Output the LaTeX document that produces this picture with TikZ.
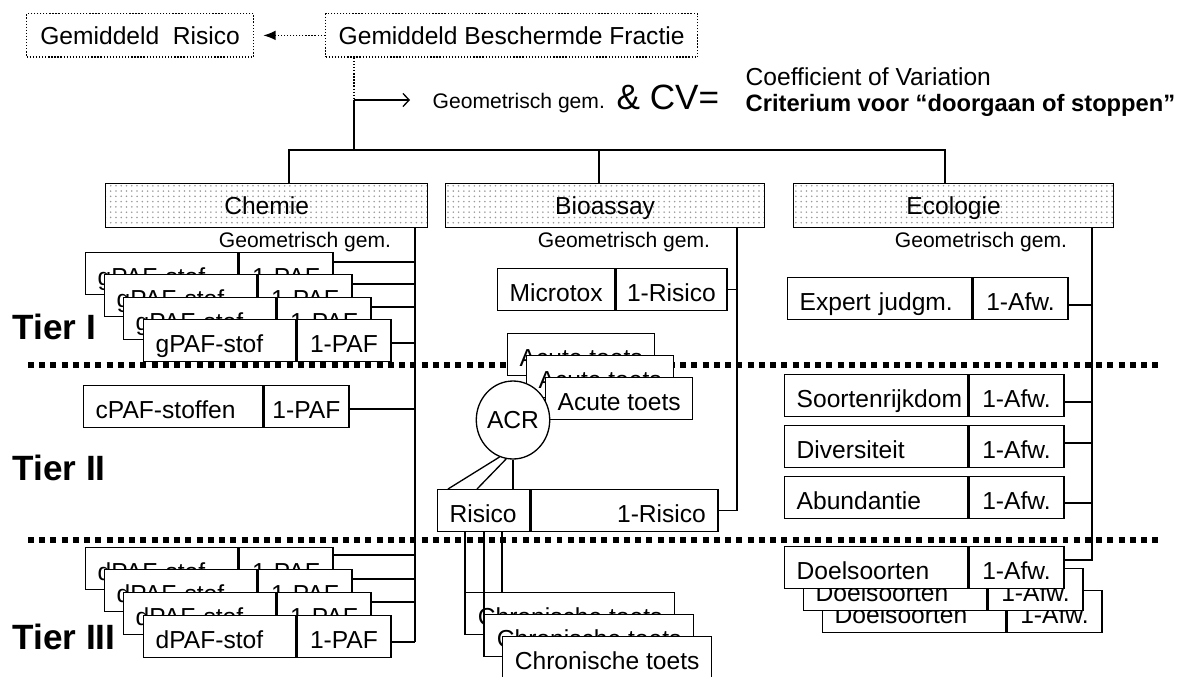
\documentclass[tikz,border=0pt]{standalone}
\usepackage{fontspec}
\setmainfont{Liberation Sans}
\usetikzlibrary{positioning,calc,shapes.geometric,patterns,arrows.meta}

\begin{document}
\begin{tikzpicture}[x=0.02cm, y=-0.02cm, >=latex, line width=0.75pt,
    every node/.style={font=\fontsize{14}{16}\selectfont}]
    \useasboundingbox (0,0) rectangle (1202,676);

    % --- ESTILOS ---
    \tikzset{
      stip/.style={draw, densely dotted, minimum height=0.87cm, inner sep=0pt, anchor=north west},
      kop/.style={draw, pattern=dots, pattern color=black!40, minimum height=0.88cm, inner sep=0pt,
        text height=12pt, text depth=2pt, anchor=north west},
      celda/.style={draw, fill=white, minimum height=0.84cm, inner sep=0pt, text height=14pt, text depth=1pt, anchor=north west},
      izq/.style={celda, inner xsep=0.24cm, text width=#1, align=left},
      der/.style={celda, minimum width=#1},
      klein/.style={font=\fontsize{12}{14}\selectfont, inner sep=0pt},
      tier/.style={font=\fontsize{20}{24}\selectfont\bfseries, anchor=west, inner sep=0pt},
      tierlijn/.style={line width=3.4pt, dash pattern=on 3.4pt off 3pt}
    }

    % --- LÍNEAS DE LOS NIVELES ---
    \draw[tierlijn] (28,365) -- (1162,365);
    \draw[tierlijn] (28,540) -- (1162,540);

    \node[tier] (t1) at (12,327) {Tier I};
    \node[tier] (t2) at (12,468) {Tier II};
    \node[tier] (t3) at (12,637) {Tier III};

    % --- PARTE SUPERIOR ---
    \node[stip, minimum width=4.54cm] (gr) at (26,13) {Gemiddeld\ \ Risico};
    \node[stip, minimum width=7.44cm] (gbf) at (325,13) {Gemiddeld Beschermde Fractie};
    \draw[densely dotted] (gbf.west) -- ($(gr.east)+(22,0)$);
    \draw[-{Latex[length=7pt, width=5.5pt]}, shorten >=0.18cm] ($(gr.east)+(22,0)$) -- (gr.east);

    \coordinate (knik) at (354,100);
    \coordinate (busl) at (289,150);
    \coordinate (busm) at (599,150);
    \coordinate (busr) at (945,150);
    \draw[densely dotted] (gbf.south -| knik) -- (knik);
    \draw (knik) -- (knik |- busl);

    \node[klein, anchor=west] (geotop) at (432,103) {Geometrisch gem.};
    \draw[-{Straight Barb[length=3.5pt, width=7.5pt]}, shorten >=0.44cm] (knik) -- (knik -| geotop.west);
    \node[font=\fontsize{20}{24}\selectfont, anchor=west, inner sep=0pt] (cv) at (616,97) {\& CV=};
    \node[anchor=west, inner sep=0pt] (cov) at (745,77) {Coefficient of Variation};
    \node[font=\fontsize{13.5}{16}\selectfont\bfseries, anchor=west, inner sep=0pt] (crit) at (745,105) {Criterium voor ``doorgaan of stoppen''};

    % --- COLUMNAS ---
    \node[kop, minimum width=6.44cm] (chemie) at (105,183) {Chemie};
    \node[kop, minimum width=6.38cm] (bio) at (445,183) {Bioassay};
    \node[kop, minimum width=6.40cm] (eco) at (793,183) {Ecologie};

    \draw (chemie.north -| busl) -- (busl) -- (busr) -- (eco.north -| busr);
    \draw (busm) -- (bio.north -| busm);

    % --- CHEMIE ---
    \node[klein] (cgeo) at (305,242) {Geometrisch gem.};
    \coordinate (cbus) at (415,642);
    \draw (chemie.south -| cbus) -- (cbus);

    \node[izq=2.56cm] (g1a) at (85,252) {gPAF-stof};
    \node[der=1.88cm] (g1b) at (g1a.north east) {1-PAF};
    \node[izq=2.56cm] (g2a) at (104,274) {gPAF-stof};
    \node[der=1.88cm] (g2b) at (g2a.north east) {1-PAF};
    \node[izq=2.56cm] (g3a) at (123,297) {gPAF-stof};
    \node[der=1.88cm] (g3b) at (g3a.north east) {1-PAF};
    \node[izq=2.56cm] (g4a) at (143,319) {gPAF-stof};
    \node[der=1.88cm] (g4b) at (g4a.north east) {1-PAF};

    \node[izq=3.10cm] (c1a) at (83,385) {cPAF-stoffen};
    \node[der=1.70cm] (c1b) at (c1a.north east) {1-PAF};

    \node[izq=2.56cm] (d1a) at (85,547) {dPAF-stof};
    \node[der=1.88cm] (d1b) at (d1a.north east) {1-PAF};
    \node[izq=2.56cm] (d2a) at (104,569) {dPAF-stof};
    \node[der=1.88cm] (d2b) at (d2a.north east) {1-PAF};
    \node[izq=2.56cm] (d3a) at (123,592) {dPAF-stof};
    \node[der=1.88cm] (d3b) at (d3a.north east) {1-PAF};
    \node[izq=2.56cm] (d4a) at (143,615) {dPAF-stof};
    \node[der=1.88cm] (d4b) at (d4a.north east) {1-PAF};

    \draw ($(g1b.north east)+(0,10)$) coordinate (t) -- (t -| cbus);
    \draw ($(g2b.north east)+(0,10)$) coordinate (t) -- (t -| cbus);
    \draw ($(g3b.north east)+(0,10)$) coordinate (t) -- (t -| cbus);
    \draw ($(g4b.north east)+(0,24)$) coordinate (t) -- (t -| cbus);
    \draw ($(c1b.north east)+(0,24)$) coordinate (t) -- (t -| cbus);
    \draw ($(d1b.north east)+(0,8)$) coordinate (t) -- (t -| cbus);
    \draw ($(d2b.north east)+(0,10)$) coordinate (t) -- (t -| cbus);
    \draw ($(d3b.north east)+(0,10)$) coordinate (t) -- (t -| cbus);
    \draw ($(d4b.north east)+(0,27)$) coordinate (t) -- (t -| cbus);

    % --- BIOASSAY ---
    \node[klein] (bgeo) at (624,242) {Geometrisch gem.};
    \coordinate (bbus) at (737,227);

    \node[izq=1.86cm] (ma) at (497,268) {Microtox};
    \node[der=2.22cm] (mb) at (ma.north east) {1-Risico};

    \node[der=2.94cm] (ac1) at (507,333) {Acute toets};
    \node[der=2.94cm] (ac2) at (526,355) {Acute toets};
    \node[der=2.94cm] (ac3) at (545,377) {Acute toets};
    \node[draw, fill=white, ellipse, minimum width=1.36cm, minimum height=1.56cm, inner sep=0pt] (acr) at (513,420) {ACR};

    \node[izq=1.36cm] (rl) at (437,489) {Risico};
    \node[celda, inner xsep=0.24cm, text width=3.26cm, align=right] (rr) at (rl.north east) {1-Risico};

    \node[der=4.18cm] (ch1) at (465,592) {Chronische toets};
    \node[der=4.18cm] (ch2) at (484,614) {Chronische toets};
    \node[der=4.18cm] (ch3) at (502,636) {Chronische toets};

    \draw (bbus) |- (rr.east);
    \draw (mb.east) -- (mb.east -| bbus);
    \draw (acr.250) -- ($(rl.north west)+(11,0)$);
    \draw (acr.260) -- ($(rl.north west)+(40,0)$);
    \draw (acr.south) -- (acr.south |- rl.north);
    \draw (rl.south -| ch1.west) -- (ch1.south west);
    \draw (rl.south -| ch2.west) -- (ch2.south west);
    \draw (rl.south -| ch3.west) -- (ch1.north -| ch3.west);

    % --- ECOLOGIE ---
    \node[klein] (egeo) at (981,242) {Geometrisch gem.};
    \coordinate (ebus) at (1092,227);

    \node[izq=3.20cm] (xa) at (787,277) {Expert judgm.};
    \node[der=1.90cm] (xb) at (xa.north east) {1-Afw.};
    \node[izq=3.18cm] (sa) at (784,374) {\mbox{Soortenrijkdom}};
    \node[der=1.90cm] (sb) at (sa.north east) {1-Afw.};
    \node[izq=3.18cm] (va) at (784,425) {Diversiteit};
    \node[der=1.90cm] (vb) at (va.north east) {1-Afw.};
    \node[izq=3.18cm] (aa) at (784,476) {Abundantie};
    \node[der=1.90cm] (ab) at (aa.north east) {1-Afw.};

    \node[izq=3.18cm] (o3a) at (822,590) {Doelsoorten};
    \node[der=1.90cm] (o3b) at (o3a.north east) {1-Afw.};
    \node[izq=3.18cm] (o2a) at (803,568) {Doelsoorten};
    \node[der=1.90cm] (o2b) at (o2a.north east) {1-Afw.};
    \node[izq=3.18cm] (o1a) at (784,546) {Doelsoorten};
    \node[der=1.90cm] (o1b) at (o1a.north east) {1-Afw.};

    \draw (ebus) |- ($(o1b.north east)+(0,14)$);
    \draw ($(xb.north east)+(0,28)$) coordinate (t) -- (t -| ebus);
    \draw ($(sb.north east)+(0,28)$) coordinate (t) -- (t -| ebus);
    \draw ($(vb.north east)+(0,18)$) coordinate (t) -- (t -| ebus);
    \draw ($(ab.north east)+(0,27)$) coordinate (t) -- (t -| ebus);

\end{tikzpicture}
\end{document}
